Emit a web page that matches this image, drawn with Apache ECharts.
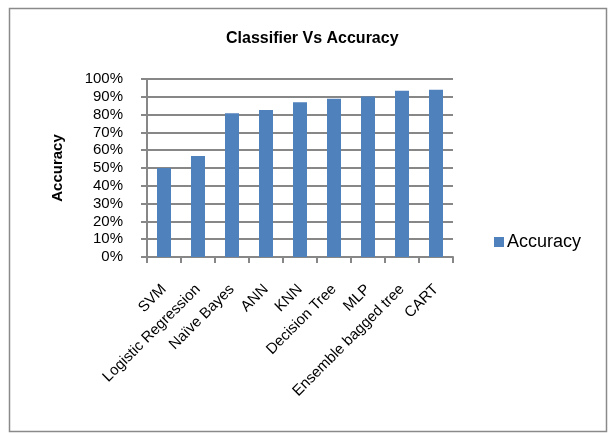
<!DOCTYPE html>
<html>
<head>
<meta charset="utf-8">
<script src="https://cdn.jsdelivr.net/npm/echarts@6/dist/echarts.min.js"></script>
<style>
  html, body { margin: 0; padding: 0; background: #fff; }
  #chart { width: 610px; height: 433px; }
</style>
</head>
<body>
<div id="chart"></div>
<script>
// Classifier names along the x axis
const classifiers = ['SVM', 'Logistic Regression', 'Naïve Bayes', 'ANN', 'KNN',
  'Decision Tree', 'MLP', 'Ensemble bagged tree', 'CART'];
// Accuracy of each classifier, in percent
const accuracy = [50, 56.7, 80.7, 82.6, 86.9, 88.9, 90.1, 93.4, 94.0];
// Y axis range and step, in percent
const yMin = 0, yMax = 100, yStep = 10;

const chart = echarts.init(document.getElementById('chart'), null, { renderer: 'canvas' });
const font = 'Liberation Sans, Arial, sans-serif';
const gridColor = '#878787';

chart.setOption({
  animation: false,
  backgroundColor: '#fff',
  textStyle: { fontFamily: font },
  title: {
    text: 'Classifier Vs Accuracy',
    left: 221,
    top: 26,
    textStyle: { fontSize: 16, fontWeight: 'bold', color: '#000', fontFamily: font }
  },
  legend: {
    data: ['Accuracy'],
    left: 494,
    top: 233,
    padding: 0,
    itemWidth: 10,
    itemHeight: 10,
    icon: 'rect',
    textStyle: { fontSize: 18, color: '#000', fontFamily: font, padding: [0, 0, 0, -2] }
  },
  grid: { left: 147, right: 157, top: 79, bottom: 176, containLabel: false },
  xAxis: {
    type: 'category',
    data: classifiers,
    axisLine: { lineStyle: { color: gridColor, width: 2 } },
    axisTick: { show: true, length: 6, lineStyle: { color: gridColor, width: 2 } },
    axisLabel: {
      rotate: 45,
      interval: 0,
      margin: 30,
      fontSize: 15,
      color: '#000',
      fontFamily: font
    }
  },
  yAxis: {
    type: 'value',
    min: yMin,
    max: yMax,
    interval: yStep,
    name: 'Accuracy',
    nameLocation: 'middle',
    nameRotate: 90,
    nameGap: 82,
    nameTextStyle: { fontSize: 15, fontWeight: 'bold', color: '#000', fontFamily: font },
    axisLine: { show: true, lineStyle: { color: gridColor, width: 2 } },
    axisTick: { show: true, length: 6, lineStyle: { color: gridColor, width: 2 } },
    splitLine: { lineStyle: { color: gridColor, width: 2 } },
    axisLabel: {
      margin: 24,
      fontSize: 15,
      color: '#000',
      fontFamily: font,
      formatter: v => v + '%'
    }
  },
  series: [{
    name: 'Accuracy',
    type: 'bar',
    data: accuracy,
    barWidth: 14,
    itemStyle: { color: '#4F81BD' }
  }],
  graphic: [{
    type: 'rect',
    shape: { x: 9.5, y: 8.5, width: 597, height: 423 },
    style: { fill: 'none', stroke: '#8a8a8a', lineWidth: 1.5 },
    silent: true
  }]
});
</script>
</body>
</html>
